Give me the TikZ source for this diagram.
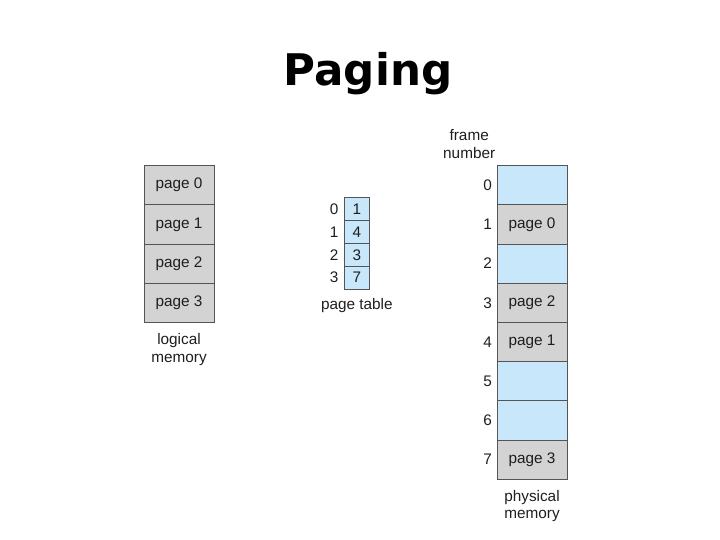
\documentclass[tikz,border=0pt]{standalone}
\usepackage{fontspec}
\setmainfont{Liberation Sans}
\newfontfamily\titlefont{DejaVu Sans}
\usetikzlibrary{positioning}
\definecolor{usedgray}{RGB}{211,211,211}
\definecolor{freeblue}{RGB}{200,231,250}
\definecolor{edgegray}{RGB}{85,85,85}
\definecolor{textgray}{RGB}{30,30,30}
\newcommand{\memfont}{\fontsize{10.9}{12.2}\selectfont}

\begin{document}
\begin{tikzpicture}[
    pagebox/.style={rectangle, draw=edgegray, line width=0.6pt, fill=usedgray, minimum width=1.75cm, minimum height=0.98cm, inner sep=0pt, outer sep=0pt, font=\memfont, text=textgray},
    freebox/.style={pagebox, fill=freeblue},
    ptbox/.style={rectangle, draw=edgegray, line width=0.6pt, fill=freeblue, minimum width=0.625cm, minimum height=0.57cm, inner sep=0pt, outer sep=0pt, font=\memfont, text=textgray},
    idx/.style={font=\memfont, text=textgray, inner sep=0pt},
    caption/.style={font=\memfont, text=textgray, align=center, inner sep=0pt},
]
\useasboundingbox (0,0) rectangle (18,-13.5);

% 标题
\node (title) at (9.2,-1.85) {\titlefont\bfseries\fontsize{31}{36}\selectfont Paging};

% 逻辑内存
\node[pagebox] (lm0) at (4.475,-4.63) {page 0};
\node[pagebox] (lm1) at (4.475,-5.61) {page 1};
\node[pagebox] (lm2) at (4.475,-6.59) {page 2};
\node[pagebox] (lm3) at (4.475,-7.57) {page 3};
\node[caption, below=0.28cm of lm3] (lmcap) {logical\\memory};

% 页表
\node[ptbox] (pt0) at (8.92,-5.23) {1};
\node[ptbox] (pt1) at (8.92,-5.80) {4};
\node[ptbox] (pt2) at (8.92,-6.37) {3};
\node[ptbox] (pt3) at (8.92,-6.94) {7};
\node[idx, left=0.14cm of pt0] (pi0) {0};
\node[idx, left=0.14cm of pt1] (pi1) {1};
\node[idx, left=0.14cm of pt2] (pi2) {2};
\node[idx, left=0.14cm of pt3] (pi3) {3};
\node[caption, below=0.24cm of pt3] (ptcap) {page table};

% 物理内存
\node[freebox] (pm0) at (13.3,-4.63)  {};
\node[pagebox] (pm1) at (13.3,-5.61)  {page 0};
\node[freebox] (pm2) at (13.3,-6.59)  {};
\node[pagebox] (pm3) at (13.3,-7.57)  {page 2};
\node[pagebox] (pm4) at (13.3,-8.55)  {page 1};
\node[freebox] (pm5) at (13.3,-9.53)  {};
\node[freebox] (pm6) at (13.3,-10.51) {};
\node[pagebox] (pm7) at (13.3,-11.49) {page 3};

% 帧号
\node[idx, left=0.12cm of pm0] (fn0) {0};
\node[idx, left=0.12cm of pm1] (fn1) {1};
\node[idx, left=0.12cm of pm2] (fn2) {2};
\node[idx, left=0.12cm of pm3] (fn3) {3};
\node[idx, left=0.12cm of pm4] (fn4) {4};
\node[idx, left=0.12cm of pm5] (fn5) {5};
\node[idx, left=0.12cm of pm6] (fn6) {6};
\node[idx, left=0.12cm of pm7] (fn7) {7};

\node[caption] (fncap) at (11.73,-3.6) {frame\\number};
\node[caption, below=0.28cm of pm7] (pmcap) {physical\\memory};

\end{tikzpicture}
\end{document}
